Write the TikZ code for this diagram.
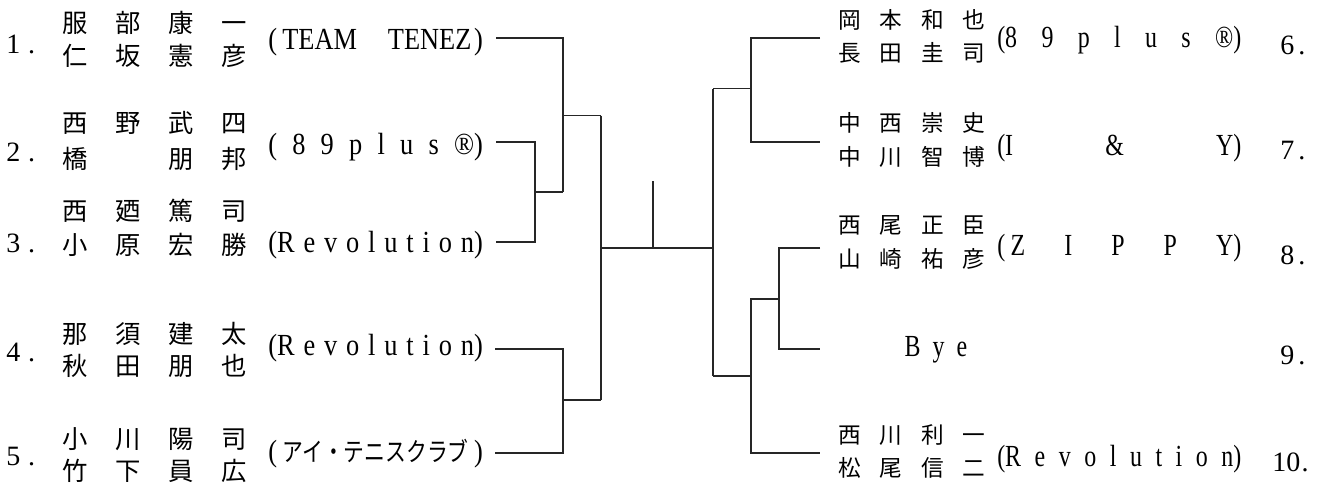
\documentclass[tikz,border=0pt]{standalone}
\usepackage{fontspec}
\setmainfont{Liberation Serif}
\newfontfamily\jp{Noto Sans CJK JP}
\newfontfamily\jpc[FakeStretch=0.8]{Noto Sans CJK JP}
\newfontfamily\cond[FakeStretch=0.78]{Liberation Serif}
\newfontfamily\condL[FakeStretch=0.86]{Liberation Serif}
\newcommand\hg{\hfill}
\newcommand\kanjirow[4]{\makebox[39.75pt]{#1}\makebox[39.75pt]{#2}\makebox[39.75pt]{#3}\makebox[39.75pt]{#4}}
\newcommand\kanjirowR[4]{\makebox[31pt]{#1}\makebox[31pt]{#2}\makebox[31pt]{#3}\makebox[31pt]{#4}}
\newcommand\teamL[1]{\hbox to 161pt{#1}}
\newcommand\teamR[1]{\hbox to 183pt{#1}}
\tikzset{
  ln/.style={line width=1.1pt, black!85},
  nmL/.style={inner sep=0pt, anchor=center, font=\jp\fontsize{19}{19}\selectfont},
  nmR/.style={inner sep=0pt, anchor=center, font=\jp\fontsize{17}{17}\selectfont},
  tmL/.style={inner sep=0pt, anchor=west, font=\condL\fontsize{23}{23}\selectfont},
  tmR/.style={inner sep=0pt, anchor=west, font=\cond\fontsize{23}{23}\selectfont},
  numL/.style={inner sep=0pt, anchor=west, font=\fontsize{21}{21}\selectfont},
  numR/.style={inner sep=0pt, anchor=west, font=\fontsize{21}{21}\selectfont},
}
\begin{document}
\begin{tikzpicture}[x=0.75pt,y=-0.75pt]
\useasboundingbox[fill=white] (0,0) rectangle (1328,490);

% ---------- left entries ----------
\node[numL] (n1) at (6,44) {1\hspace{6pt}.};
\node[nmL] (a1) at (155,23) {\kanjirow{服}{部}{康}{一}};
\node[nmL] (b1) at (155,56) {\kanjirow{仁}{坂}{憲}{彦}};
\node[tmL] (t1) at (268,42) {\teamL{(\hspace{4pt}TEAM\hfill TENEZ\hspace{2pt})}};

\node[numL] (n2) at (6,152) {2\hspace{6pt}.};
\node[nmL] (a2) at (155,123) {\kanjirow{西}{野}{武}{四}};
\node[nmL] (b2) at (155,159) {\kanjirow{橋}{}{朋}{邦}};
\node[tmL] (t2) at (268,147) {\teamL{(\hg 8\hg 9\hg p\hg l\hg u\hg s\hg ®)}};

\node[numL] (n3) at (6,243) {3\hspace{6pt}.};
\node[nmL] (a3) at (155,211) {\kanjirow{西}{廼}{篤}{司}};
\node[nmL] (b3) at (155,245) {\kanjirow{小}{原}{宏}{勝}};
\node[tmL] (t3) at (268,245) {\teamL{(R\hg e\hg v\hg o\hg l\hg u\hg t\hg i\hg o\hg n)}};

\node[numL] (n4) at (6,352) {4\hspace{6pt}.};
\node[nmL] (a4) at (155,334) {\kanjirow{那}{須}{建}{太}};
\node[nmL] (b4) at (155,366) {\kanjirow{秋}{田}{朋}{也}};
\node[tmL] (t4) at (268,348) {\teamL{(R\hg e\hg v\hg o\hg l\hg u\hg t\hg i\hg o\hg n)}};

\node[numL] (n5) at (6,457) {5\hspace{6pt}.};
\node[nmL] (a5) at (155,439) {\kanjirow{小}{川}{陽}{司}};
\node[nmL] (b5) at (155,471) {\kanjirow{竹}{下}{員}{広}};
\node[tmL] (t5) at (268,454) {\teamL{(\hfill{\jpc\fontsize{19.5}{19.5}\selectfont アイ・テニスクラブ}\hfill)}};

% ---------- right entries ----------
\node[nmR] (a6) at (912,20) {\kanjirowR{岡}{本}{和}{也}};
\node[nmR] (b6) at (912,53) {\kanjirowR{長}{田}{圭}{司}};
\node[tmR] (t6) at (997,40) {\teamR{(8\hg 9\hg p\hg l\hg u\hg s\hg ®)}};
\node[numR] (n6) at (1280,45) {6\hspace{3pt}.};

\node[nmR] (a7) at (912,123) {\kanjirowR{中}{西}{崇}{史}};
\node[nmR] (b7) at (912,157) {\kanjirowR{中}{川}{智}{博}};
\node[tmR] (t7) at (997,148) {\teamR{(I\hfill\&\hfill Y)}};
\node[numR] (n7) at (1280,151) {7\hspace{3pt}.};

\node[nmR] (a8) at (912,225) {\kanjirowR{西}{尾}{正}{臣}};
\node[nmR] (b8) at (912,259) {\kanjirowR{山}{崎}{祐}{彦}};
\node[tmR] (t8) at (997,248) {\teamR{(\hspace{4pt}Z\hg I\hg P\hg P\hg Y)}};
\node[numR] (n8) at (1280,255) {8\hspace{3pt}.};

\node[inner sep=0pt, anchor=center, font=\cond\fontsize{23}{23}\selectfont] (bye) at (936,350) {\hbox to 47pt{B\hfill y\hfill e}};
\node[numR] (n9) at (1280,355) {9\hspace{3pt}.};

\node[nmR] (a10) at (912,435) {\kanjirowR{西}{川}{利}{一}};
\node[nmR] (b10) at (912,468) {\kanjirowR{松}{尾}{信}{二}};
\node[tmR] (t10) at (997,459) {\teamR{(R\hg e\hg v\hg o\hg l\hg u\hg t\hg i\hg o\hg n)}};
\node[numR] (n10) at (1272,462) {10\hspace{1pt}.};

% ---------- bracket coordinates ----------
\coordinate (l1) at (496,38);
\coordinate (l2) at (496,142);
\coordinate (l3) at (496,242);
\coordinate (l4) at (495,349);
\coordinate (l5) at (495,453);
\coordinate (q1) at (563,192);
\coordinate (c23) at (535,192);
\coordinate (m1) at (563,115.5);
\coordinate (k1) at (601,115.5);
\coordinate (c45) at (563,400);
\coordinate (k2) at (601,400);
\coordinate (cl) at (601,248);
\coordinate (cr) at (713,248);
\coordinate (tk1) at (653,181);
\coordinate (tk2) at (653,248);
\coordinate (r6) at (820,38);
\coordinate (r7) at (820,142);
\coordinate (r8) at (820,248);
\coordinate (r9) at (820,349);
\coordinate (r10) at (820,453);
\coordinate (c67) at (751,88.5);
\coordinate (k3) at (713,88.5);
\coordinate (c89) at (779,299);
\coordinate (p89) at (751,299);
\coordinate (j910) at (751,376);
\coordinate (k4) at (713,376);

% ---------- bracket lines ----------
\draw[ln] (l1) -| (q1);
\draw[ln] (l2) -| (c23) |- (l3);
\draw[ln] (c23) -- (q1);
\draw[ln] (m1) -- (k1);
\draw[ln] (l4) -| (c45) |- (l5);
\draw[ln] (c45) -- (k2);
\draw[ln] (k1) -- (k2);
\draw[ln] (cl) -- (cr);
\draw[ln] (tk1) -- (tk2);
\draw[ln] (r6) -| (c67) |- (r7);
\draw[ln] (c67) -- (k3);
\draw[ln] (k3) -- (k4);
\draw[ln] (r8) -| (c89) |- (r9);
\draw[ln] (c89) -- (p89) |- (r10);
\draw[ln] (j910) -- (k4);
\end{tikzpicture}
\end{document}
